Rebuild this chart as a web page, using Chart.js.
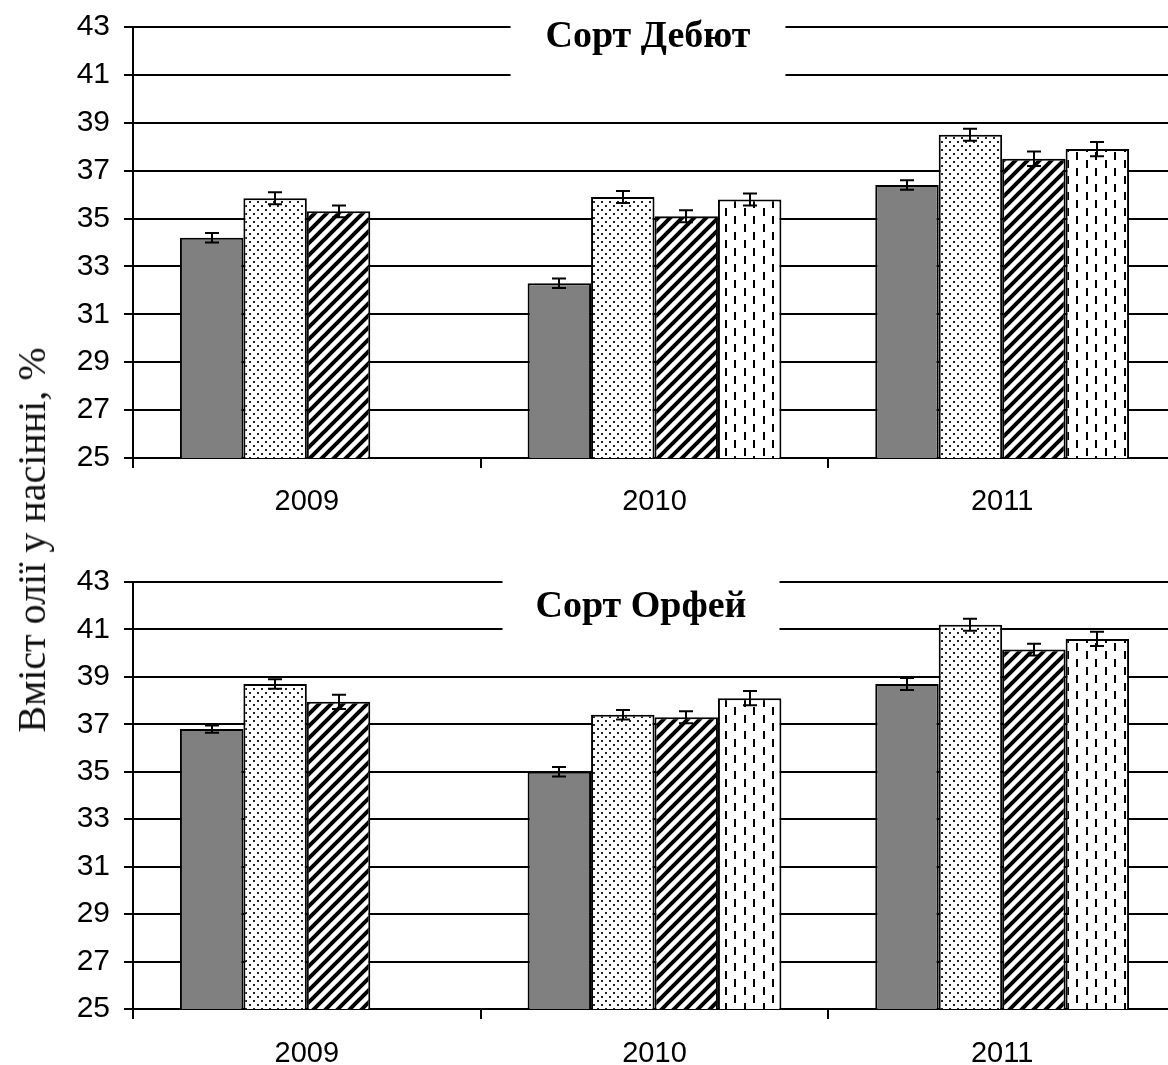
<!DOCTYPE html>
<html lang="uk">
<head>
<meta charset="utf-8">
<title>Вміст олії у насінні</title>
<script src="https://cdn.jsdelivr.net/npm/chart.js@4.4.1/dist/chart.umd.min.js"></script>
<style>
  html, body { margin: 0; padding: 0; background: #fff; overflow: hidden; width: 1168px; height: 1065px; }
  #wrap { position: relative; width: 1168px; height: 1065px; overflow: hidden; }
  canvas { position: absolute; left: 0; }
  #c1 { top: 0; }
  #c2 { top: 555px; }
  #ytitle {
    position: absolute; left: 32px; top: 540px;
    transform: translate(-50%, -50%) rotate(-90deg);
    font: 40px "Liberation Serif", "Times New Roman", serif;
    line-height: 1; white-space: nowrap; color: #111;
  }
</style>
</head>
<body>
<div id="wrap">
  <canvas id="c1" width="1180" height="520"></canvas>
  <canvas id="c2" width="1180" height="510"></canvas>
  <div id="ytitle">Вміст олії у насінні, %</div>
</div>
<script>
// Years on the category axis
const years = ['2009', '2010', '2011'];
const yTicks = [25, 27, 29, 31, 33, 35, 37, 39, 41, 43];

// Сорт Дебют — oil content, % (four treatments)
const debut1 = [34.2, 32.3, 36.4];
const debut2 = [35.85, 35.9, 38.5];
const debut3 = [35.3, 35.1, 37.5];
const debut4 = [null, 35.8, 37.9];
const debutErr1 = [0.2, 0.2, 0.2];
const debutErr2 = [0.25, 0.25, 0.25];
const debutErr3 = [0.25, 0.25, 0.3];
const debutErr4 = [null, 0.25, 0.3];

// Сорт Орфей — oil content, %
const orfei1 = [36.8, 35.0, 38.7];
const orfei2 = [38.7, 37.4, 41.2];
const orfei3 = [37.95, 37.3, 40.15];
const orfei4 = [null, 38.1, 40.6];
const orfeiErr1 = [0.15, 0.2, 0.25];
const orfeiErr2 = [0.2, 0.2, 0.25];
const orfeiErr3 = [0.3, 0.25, 0.25];
const orfeiErr4 = [null, 0.3, 0.3];

// ---- fill patterns ----
function makeTile(w, h, draw) {
  const c = document.createElement('canvas');
  c.width = w; c.height = h;
  const g = c.getContext('2d');
  g.fillStyle = '#fff';
  g.fillRect(0, 0, w, h);
  draw(g);
  return document.createElement('canvas').getContext('2d').createPattern(c, 'repeat');
}
const dotFill = makeTile(8, 8, g => {
  g.fillStyle = '#222';
  g.fillRect(1, 1, 2, 2);
  g.fillRect(5, 5, 2, 2);
});
const hatchFill = makeTile(12, 12, g => {
  g.strokeStyle = '#000';
  g.lineWidth = 4;
  g.beginPath();
  g.moveTo(-2, 14); g.lineTo(14, -2);
  g.moveTo(-2, 2); g.lineTo(2, -2);
  g.moveTo(10, 14); g.lineTo(14, 10);
  g.stroke();
});
const dashFill = makeTile(19, 16, g => {
  g.fillStyle = '#000';
  g.fillRect(3, 0, 2, 8);
  g.fillRect(12, 8, 2, 8);
});
const fills = ['#808080', dotFill, hatchFill, dashFill];

// ---- error bars ----
const errorBars = {
  id: 'errorBars',
  afterDatasetsDraw(chart) {
    const ctx = chart.ctx;
    const ys = chart.scales.y;
    ctx.save();
    ctx.strokeStyle = '#000';
    ctx.lineWidth = 2;
    chart.data.datasets.forEach((ds, i) => {
      const meta = chart.getDatasetMeta(i);
      meta.data.forEach((bar, j) => {
        const v = ds.data[j], e = ds.errors[j];
        if (v == null || e == null) return;
        const x = Math.round(bar.x);
        const y1 = ys.getPixelForValue(v + e);
        const y2 = ys.getPixelForValue(v - e);
        ctx.beginPath();
        ctx.moveTo(x, y1); ctx.lineTo(x, y2);
        ctx.moveTo(x - 7, y1); ctx.lineTo(x + 7, y1);
        ctx.moveTo(x - 7, y2); ctx.lineTo(x + 7, y2);
        ctx.stroke();
      });
    });
    ctx.restore();
  }
};

// ---- panel title sitting on a white box over the grid ----
const panelTitle = {
  id: 'panelTitle',
  beforeDatasetsDraw(chart, args, opts) {
    const ctx = chart.ctx;
    ctx.save();
    ctx.font = 'bold 38px "Liberation Serif", "Times New Roman", serif';
    const w = ctx.measureText(opts.text).width;
    const top = chart.chartArea.top;
    ctx.fillStyle = '#fff';
    ctx.fillRect(opts.cx - w / 2 - opts.pad, top - 10, w + 2 * opts.pad, 60);
    ctx.fillStyle = '#000';
    ctx.textAlign = 'center';
    ctx.textBaseline = 'alphabetic';
    ctx.fillText(opts.text, opts.cx, top + opts.baseline);
    ctx.restore();
  }
};

function buildChart(canvasId, series, errors, title, titleX, titlePad, titleBase, xHeight, xPad) {
  return new Chart(document.getElementById(canvasId), {
    type: 'bar',
    data: {
      labels: years,
      datasets: series.map((s, i) => ({
        data: s,
        errors: errors[i],
        backgroundColor: fills[i],
        borderColor: '#000',
        borderWidth: 2,
        borderSkipped: 'bottom',
        categoryPercentage: 0.73,
        barPercentage: 1.0
      }))
    },
    options: {
      responsive: false,
      animation: false,
      layout: { autoPadding: false, padding: { top: 27, left: 0, right: 4, bottom: 0 } },
      plugins: {
        legend: { display: false },
        tooltip: { enabled: false },
        panelTitle: { text: title, cx: titleX, pad: titlePad, baseline: titleBase }
      },
      scales: {
        x: {
          grid: { display: true, drawOnChartArea: false, drawTicks: true, tickLength: 10, color: '#000', lineWidth: 2, offset: true },
          border: { display: true, color: '#000', width: 2 },
          ticks: { color: '#000', font: { family: '"Liberation Sans", Arial, sans-serif', size: 29 }, padding: xPad, maxRotation: 0 },
          afterFit(scale) { scale.height = xHeight; scale.paddingLeft = 0; scale.paddingRight = 0; }
        },
        y: {
          min: 25, max: 43,
          afterBuildTicks(scale) { scale.ticks = yTicks.map(v => ({ value: v })); },
          grid: { color: '#000', lineWidth: 2, tickLength: 9, drawTicks: true },
          border: { display: true, color: '#000', width: 2 },
          ticks: { color: '#000', font: { family: '"Liberation Sans", Arial, sans-serif', size: 30 }, padding: 14 },
          afterFit(scale) { scale.width = 133; scale.paddingTop = 0; scale.paddingBottom = 0; }
        }
      }
    },
    plugins: [panelTitle, errorBars]
  });
}

buildChart('c1',
  [debut1, debut2, debut3, debut4],
  [debutErr1, debutErr2, debutErr3, debutErr4],
  'Сорт Дебют', 648, 35, 20, 62, 17);

buildChart('c2',
  [orfei1, orfei2, orfei3, orfei4],
  [orfeiErr1, orfeiErr2, orfeiErr3, orfeiErr4],
  'Сорт Орфей', 641, 33, 35, 56, 18);
</script>
</body>
</html>
